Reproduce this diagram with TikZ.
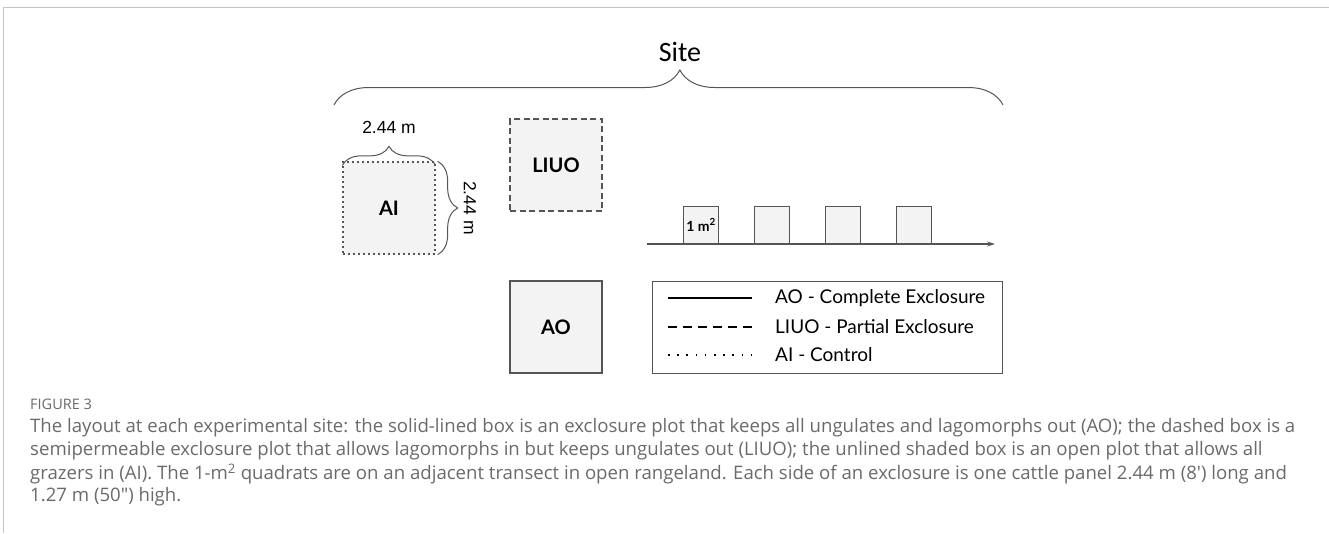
\documentclass[tikz,border=0pt]{standalone}
\usepackage{fontspec}
\setmainfont{Lato}
\newfontfamily\carl{Carlito}
\newfontfamily\arial{Liberation Sans}
\newfontfamily\capf{Open Sans}
\usetikzlibrary{decorations.pathreplacing,arrows.meta}
\definecolor{boxfill}{HTML}{F3F3F3}
\definecolor{edge}{HTML}{555555}
\definecolor{frame}{HTML}{C4C4C4}
\definecolor{captxt}{HTML}{6A6A6A}
\tikzset{
  plot/.style={draw=edge, fill=boxfill, line width=1.3pt, minimum width=92pt, minimum height=92pt, inner sep=0pt, font=\bfseries\fontsize{20}{22}\selectfont},
  quad/.style={draw=edge, fill=boxfill, line width=1pt, minimum width=35pt, minimum height=37pt, inner sep=0pt, anchor=south west, font=\bfseries\fontsize{14}{15}\selectfont},
  dotbox/.style={dash pattern=on 1.6pt off 3.4pt},
  dashbox/.style={dash pattern=on 6pt off 3.5pt},
  curly/.style={draw=edge, line width=1pt, decorate},
  legtxt/.style={anchor=west, inner sep=0pt, font=\fontsize{19}{21}\selectfont},
  capline/.style={anchor=west, inner sep=0pt, text=captxt, font=\capf\fontsize{18.6}{20}\selectfont},
}
\begin{document}
\begin{tikzpicture}[x=1pt, y=-1pt]
\useasboundingbox (0,0) rectangle (1329,533);
% frame
\draw[frame, line width=1pt] (1329,7) -- (3,7) -- (3,533);
% site brace
\node[font=\carl\fontsize{28}{30}\selectfont] (site) at (680,52) {Site};
\coordinate (sl) at (334,105);
\coordinate (sr) at (1003,105);
\draw[curly, decoration={brace, amplitude=35pt, aspect=0.517}] (sl) -- (sr);
% AI box
\node[plot, dotbox] (ai) at (389,208) {AI};
\draw[curly, decoration={brace, amplitude=19pt}] ([yshift=-4pt]ai.north west) -- ([yshift=-4pt]ai.north east);
\node[font=\arial\fontsize{17.5}{19}\selectfont] (aiw) at (389,127) {2.44 m};
\draw[curly, decoration={brace, amplitude=20pt}] ([xshift=2pt]ai.north east) -- ([xshift=2pt]ai.south east);
\node[font=\arial\fontsize{17.5}{19}\selectfont, rotate=-90] (aih) at (470,208) {2.44 m};
% LIUO box
\node[plot, dashbox] (liuo) at (556,165) {LIUO};
% AO box
\node[plot] (ao) at (556,327) {AO};
% transect
\coordinate (t0) at (647,244);
\coordinate (t1) at (995,244);
\draw[edge, line width=1.2pt, -{Stealth[length=8pt,width=5pt]}] (t0) -- (t1);
\node[quad] (q1) at (683,244) {1 m\textsuperscript{2}};
\node[quad] (q2) at (754,244) {};
\node[quad] (q3) at (825,244) {};
\node[quad] (q4) at (896,244) {};
% legend
\node[draw=edge, line width=1pt, minimum width=350pt, minimum height=92pt, inner sep=0pt] (leg) at (827,327) {};
\coordinate (l1a) at (668,298); \coordinate (l1b) at (752,298);
\coordinate (l2a) at (668,327); \coordinate (l2b) at (752,327);
\coordinate (l3a) at (668,355); \coordinate (l3b) at (752,355);
\draw[line width=1.5pt] (l1a) -- (l1b);
\draw[line width=1.5pt, dash pattern=on 9pt off 6pt] (l2a) -- (l2b);
\draw[line width=1.5pt, dash pattern=on 1.5pt off 7.7pt] (l3a) -- (l3b);
\node[legtxt] (t1x) at (775,298) {AO - Complete Exclosure};
\node[legtxt] (t2x) at (775,327) {LIUO - Partial Exclosure};
\node[legtxt] (t3x) at (775,355) {AI - Control};
% caption
\node[anchor=west, inner sep=0pt, text=captxt, font=\capf\fontsize{14.5}{16}\selectfont] (fig) at (30,404) {FIGURE 3};
\node[capline] (c1) at (30,428) {The layout at each experimental site: the solid-lined box is an exclosure plot that keeps all ungulates and lagomorphs out (AO); the dashed box is a};
\node[capline] (c2) at (30,451) {semipermeable exclosure plot that allows lagomorphs in but keeps ungulates out (LIUO); the unlined shaded box is an open plot that allows all};
\node[capline] (c3) at (30,474) {grazers in (AI). The 1-m\textsuperscript{2} quadrats are on an adjacent transect in open rangeland. Each side of an exclosure is one cattle panel 2.44 m (8') long and};
\node[capline] (c4) at (30,497) {1.27 m (50") high.};
\end{tikzpicture}
\end{document}
